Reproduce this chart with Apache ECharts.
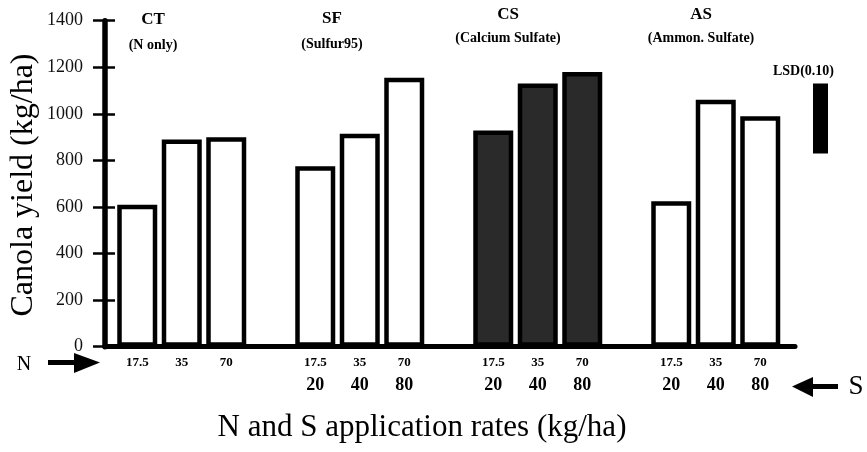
<!DOCTYPE html>
<html>
<head>
<meta charset="utf-8">
<script src="https://cdn.jsdelivr.net/npm/echarts@6/dist/echarts.min.js"></script>
<style>
html,body{margin:0;padding:0;background:#fff;}
#c{width:867px;height:452px;}
</style>
</head>
<body>
<div id="c"></div>
<script>
// ---- data ----
const groups = ['CT', 'SF', 'CS', 'AS'];
const groupNotes = ['(N only)', '(Sulfur95)', '(Calcium Sulfate)', '(Ammon. Sulfate)'];
const nRates = ['17.5', '35', '70'];
const sRates = ['20', '40', '80'];
const ctYield = [610, 890, 900];
const sfYield = [775, 915, 1155];
const csYield = [928, 1130, 1180];
const asYield = [625, 1060, 990];
const lsdLabel = 'LSD(0.10)';
const lsdBase = [830];
const lsdValue = [300];
const yTicks = [0, 200, 400, 600, 800, 1000, 1200, 1400];

const yieldsByGroup = [ctYield, sfYield, csYield, asYield];
const SERIF = '"Liberation Serif", "Times New Roman", serif';

// build category slots (3 bars per group, one empty slot between groups)
const categories = [];
const slotInfo = [];
const barData = [];
groups.forEach((g, gi) => {
  nRates.forEach((n, ri) => {
    categories.push(g + '-' + n);
    slotInfo.push({ g: gi, r: ri });
    barData.push({
      value: yieldsByGroup[gi][ri],
      itemStyle: gi === 2 ? { color: '#2a2a2a' } : { color: '#ffffff' }
    });
  });
  if (gi < groups.length - 1) {
    categories.push('gap' + gi);
    slotInfo.push(null);
    barData.push(null);
  }
});

const gTop = 20.7, gBottom = 105.3;
const chart = echarts.init(document.getElementById('c'));

const titleRows = [
  { x: 153, y1: 20, y2: 45 },
  { x: 332, y1: 19, y2: 44 },
  { x: 508, y1: 15, y2: 38 },
  { x: 701, y1: 15, y2: 38 }
];
const graphics = [];
groups.forEach((g, i) => {
  graphics.push({ type: 'text', x: titleRows[i].x, y: titleRows[i].y1,
    style: { text: g, font: 'bold 17px ' + SERIF, fill: '#000', textAlign: 'center', textVerticalAlign: 'middle' } });
  graphics.push({ type: 'text', x: titleRows[i].x, y: titleRows[i].y2,
    style: { text: groupNotes[i], font: 'bold 14px ' + SERIF, fill: '#000', textAlign: 'center', textVerticalAlign: 'middle' } });
});
// axis titles
graphics.push({ type: 'text', x: 24, y: 185, rotation: Math.PI / 2,
  style: { text: 'Canola yield (kg/ha)', font: '32px ' + SERIF, fill: '#000', textAlign: 'center', textVerticalAlign: 'middle' } });
graphics.push({ type: 'text', x: 422, y: 428,
  style: { text: 'N and S application rates (kg/ha)', font: '31px ' + SERIF, fill: '#000', textAlign: 'center', textVerticalAlign: 'middle' } });
// N arrow
graphics.push({ type: 'text', x: 24, y: 365,
  style: { text: 'N', font: '20px ' + SERIF, fill: '#000', textAlign: 'center', textVerticalAlign: 'middle' } });
graphics.push({ type: 'rect', shape: { x: 48, y: 360, width: 28, height: 5 }, style: { fill: '#000' } });
graphics.push({ type: 'polygon', shape: { points: [[74, 353], [100, 362.5], [74, 373]] }, style: { fill: '#000' } });
// S arrow
graphics.push({ type: 'text', x: 856, y: 387,
  style: { text: 'S', font: '27px ' + SERIF, fill: '#000', textAlign: 'center', textVerticalAlign: 'middle' } });
graphics.push({ type: 'rect', shape: { x: 810, y: 384, width: 28, height: 5 }, style: { fill: '#000' } });
graphics.push({ type: 'polygon', shape: { points: [[792, 386.5], [813, 377], [813, 397]] }, style: { fill: '#000' } });

chart.setOption({
  animation: false,
  backgroundColor: '#ffffff',
  grid: [
    { left: 115, right: 84.5, top: gTop, bottom: gBottom },
    { left: 105, right: 72, top: gTop, bottom: gBottom },
    { left: 813, width: 15, top: gTop, bottom: gBottom }
  ],
  xAxis: [
    {
      type: 'category', gridIndex: 0, data: categories,
      axisLine: { show: false }, axisTick: { show: false }, splitLine: { show: false },
      axisLabel: {
        interval: 0, margin: 8, color: '#000',
        formatter: function (v, idx) {
          const s = slotInfo[idx];
          if (!s) return '';
          if (s.g === 0) return '{n|' + nRates[s.r] + '}';
          return '{n|' + nRates[s.r] + '}\n{s|' + sRates[s.r] + '}';
        },
        rich: {
          n: { fontFamily: SERIF, fontWeight: 'bold', fontSize: 13, lineHeight: 16, color: '#000' },
          s: { fontFamily: SERIF, fontWeight: 'bold', fontSize: 18, lineHeight: 30, color: '#000' }
        }
      }
    },
    {
      type: 'value', gridIndex: 1, min: 0, max: 1,
      axisLine: { show: true, lineStyle: { color: '#000', width: 5 } },
      axisTick: { show: false }, axisLabel: { show: false }, splitLine: { show: false }
    },
    {
      type: 'category', gridIndex: 2, data: [lsdLabel],
      axisLine: { show: false }, axisTick: { show: false }, axisLabel: { show: false }, splitLine: { show: false }
    }
  ],
  yAxis: [
    {
      type: 'value', gridIndex: 0, min: 0, max: 1400, interval: 200, show: false
    },
    {
      type: 'value', gridIndex: 1, position: 'left', min: 0, max: 1400, interval: 200,
      axisLine: { show: true, lineStyle: { color: '#000', width: 5.5, cap: 'round' } },
      axisTick: { show: true, length: 12, lineStyle: { color: '#000', width: 2.5 } },
      axisLabel: {
        margin: 22, color: '#111', fontFamily: SERIF, fontSize: 18,
        formatter: function (v) { return yTicks.indexOf(v) >= 0 ? String(v) : ''; }
      },
      splitLine: { show: false }
    },
    {
      type: 'value', gridIndex: 1, position: 'left', offset: 0, min: 0, max: 1400, interval: 200,
      axisLine: { show: false },
      axisTick: { show: true, inside: true, length: 10, lineStyle: { color: '#000', width: 2.5 } },
      axisLabel: { show: false }, splitLine: { show: false }
    },
    {
      type: 'value', gridIndex: 2, min: 0, max: 1400, show: false
    }
  ],
  series: [
    {
      type: 'bar', xAxisIndex: 0, yAxisIndex: 0, data: barData,
      barWidth: 40,
      itemStyle: { borderColor: '#000', borderWidth: 4.5 },
      z: 3
    },
    {
      type: 'bar', xAxisIndex: 2, yAxisIndex: 3, stack: 'lsd', data: lsdBase,
      barWidth: 15, itemStyle: { color: 'transparent' }, silent: true
    },
    {
      type: 'bar', xAxisIndex: 2, yAxisIndex: 3, stack: 'lsd', data: lsdValue,
      barWidth: 15, itemStyle: { color: '#000' },
      label: {
        show: true, position: 'top', distance: 5, offset: [-17, 0],
        formatter: lsdLabel, fontFamily: SERIF, fontWeight: 'bold', fontSize: 14, color: '#000'
      }
    }
  ],
  graphic: graphics
});
</script>
</body>
</html>
